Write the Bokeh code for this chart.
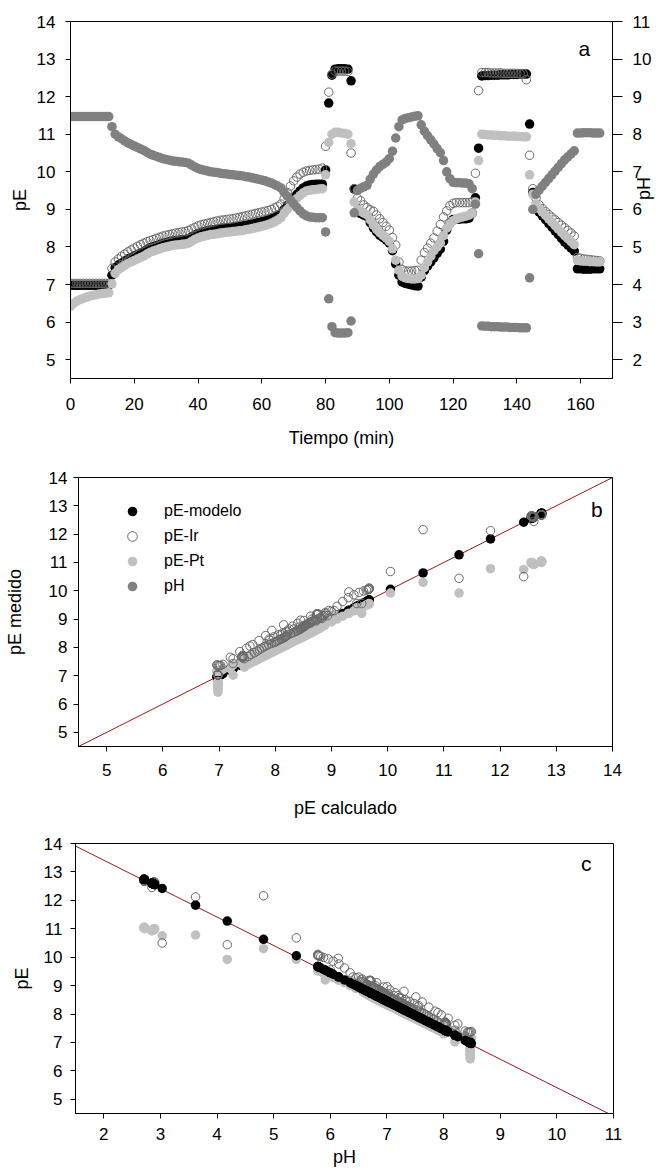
import math
from bokeh.plotting import figure
from bokeh.models import (ColumnDataSource, Range1d, LinearAxis, FixedTicker, Slope,
                          Label, Legend, LegendItem)
from bokeh.embed import file_html
from bokeh.resources import INLINE

# ---------------- data ----------------
tiempo = list(range(0, 167))  # min

ph = [8.47, 8.47, 8.47, 8.47, 8.47, 8.47, 8.47, 8.47, 8.47, 8.47,
      8.47, 8.47, 8.47, 8.20, 8.00, 7.93, 7.88, 7.82, 7.77, 7.73,
      7.69, 7.65, 7.61, 7.57, 7.52, 7.47, 7.44, 7.41, 7.38, 7.35,
      7.33, 7.31, 7.29, 7.28, 7.27, 7.26, 7.25, 7.23, 7.18, 7.13,
      7.09, 7.06, 7.04, 7.02, 7.00, 6.99, 6.98, 6.96, 6.95, 6.94,
      6.93, 6.92, 6.91, 6.90, 6.89, 6.87, 6.86, 6.84, 6.82, 6.80,
      6.78, 6.76, 6.73, 6.70, 6.66, 6.62, 6.57, 6.45, 6.35, 6.25,
      6.15, 6.05, 5.96, 5.88, 5.83, 5.80, 5.79, 5.78, 5.78, 5.78,
      5.40, 3.62, 2.88, 2.72, 2.71, 2.71, 2.71, 2.72, 3.03, 5.91,
      6.50, 6.56, 6.60, 6.64, 6.80, 6.94, 7.05, 7.14, 7.20, 7.26,
      7.35, 7.55, 7.90, 8.20, 8.38, 8.42, 8.44, 8.46, 8.48, 8.49,
      8.25, 8.08, 7.96, 7.85, 7.74, 7.62, 7.51, 7.30, 7.00, 6.82,
      6.72, 6.71, 6.71, 6.70, 6.70, 6.68, 6.55, 6.14, 4.82, 2.90,
      2.89, 2.89, 2.88, 2.88, 2.88, 2.87, 2.87, 2.87, 2.86, 2.86,
      2.86, 2.85, 2.85, 2.85, 4.18, 6.00, 6.40, 6.52, 6.62, 6.72,
      6.82, 6.92, 7.02, 7.12, 7.22, 7.32, 7.40, 7.48, 7.56, 8.03,
      8.03, 8.04, 8.04, 8.04, 8.03, 8.03, 8.03]

pe_modelo = [6.98, 6.98, 6.98, 6.98, 6.98, 6.98, 6.98, 6.98, 6.98, 6.98,
             6.98, 6.98, 6.98, 7.25, 7.45, 7.52, 7.57, 7.63, 7.68, 7.72,
             7.76, 7.80, 7.84, 7.88, 7.93, 7.98, 8.01, 8.04, 8.07, 8.10,
             8.12, 8.14, 8.16, 8.17, 8.18, 8.19, 8.20, 8.22, 8.27, 8.32,
             8.36, 8.39, 8.41, 8.43, 8.45, 8.46, 8.47, 8.49, 8.50, 8.51,
             8.52, 8.53, 8.54, 8.55, 8.56, 8.58, 8.59, 8.61, 8.63, 8.65,
             8.67, 8.69, 8.72, 8.75, 8.79, 8.83, 8.88, 9.00, 9.10, 9.20,
             9.30, 9.40, 9.49, 9.57, 9.62, 9.65, 9.66, 9.67, 9.67, 9.67,
             10.05, 11.83, 12.57, 12.73, 12.74, 12.74, 12.74, 12.73, 12.42, 9.54,
             8.95, 8.89, 8.85, 8.81, 8.65, 8.51, 8.40, 8.31, 8.25, 8.19,
             8.10, 7.90, 7.55, 7.25, 7.07, 7.03, 7.01, 6.99, 6.97, 6.96,
             7.20, 7.37, 7.49, 7.60, 7.71, 7.83, 7.94, 8.15, 8.45, 8.63,
             8.73, 8.74, 8.74, 8.75, 8.75, 8.77, 8.90, 9.31, 10.63, 12.55,
             12.56, 12.56, 12.57, 12.57, 12.57, 12.58, 12.58, 12.58, 12.59, 12.59,
             12.59, 12.60, 12.60, 12.60, 11.27, 9.45, 9.05, 8.93, 8.83, 8.73,
             8.63, 8.53, 8.43, 8.33, 8.23, 8.13, 8.05, 7.97, 7.89, 7.42,
             7.42, 7.41, 7.41, 7.41, 7.42, 7.42, 7.42]

pe_ir = [7.03, 7.03, 7.03, 7.03, 7.03, 7.03, 7.03, 7.03, 7.03, 7.03,
         7.03, 7.03, 7.03, 7.43, 7.60, 7.68, 7.75, 7.81, 7.87, 7.92,
         7.97, 8.02, 8.06, 8.10, 8.14, 8.17, 8.20, 8.23, 8.26, 8.29,
         8.31, 8.33, 8.35, 8.37, 8.38, 8.40, 8.41, 8.44, 8.48, 8.52,
         8.56, 8.59, 8.61, 8.63, 8.65, 8.67, 8.69, 8.71, 8.72, 8.73,
         8.74, 8.75, 8.77, 8.79, 8.81, 8.83, 8.85, 8.87, 8.89, 8.91,
         8.93, 8.95, 8.97, 9.00, 9.04, 9.08, 9.14, 9.28, 9.45, 9.62,
         9.76, 9.86, 9.94, 9.99, 10.02, 10.04, 10.05, 10.06, 10.07, 10.10,
         10.68, 12.12, 12.60, 12.68, 12.68, 12.68, 12.68, 12.67, 10.50, 9.55,
         9.30, 9.23, 9.12, 9.05, 8.99, 8.95, 8.85, 8.75, 8.65, 8.55,
         8.45, 8.25, 8.05, 7.60, 7.40, 7.36, 7.36, 7.36, 7.37, 7.38,
         7.65, 7.85, 7.97, 8.10, 8.24, 8.42, 8.60, 8.80, 8.96, 9.10,
         9.16, 9.18, 9.18, 9.18, 9.18, 9.18, 9.20, 9.96, 12.16, 12.64,
         12.64, 12.64, 12.63, 12.63, 12.63, 12.63, 12.62, 12.62, 12.62, 12.62,
         12.62, 12.61, 12.61, 12.45, 10.44, 9.55, 9.30, 9.12, 9.02, 8.94,
         8.86, 8.79, 8.72, 8.65, 8.58, 8.51, 8.44, 8.37, 8.29, 7.72,
         7.70, 7.68, 7.67, 7.66, 7.65, 7.64, 7.63]

pe_pt = [6.42, 6.50, 6.56, 6.60, 6.63, 6.66, 6.69, 6.71, 6.73, 6.75,
         6.76, 6.77, 6.78, 7.02, 7.30, 7.40, 7.45, 7.51, 7.56, 7.60,
         7.64, 7.68, 7.72, 7.76, 7.81, 7.86, 7.89, 7.92, 7.95, 7.98,
         8.00, 8.02, 8.04, 8.05, 8.06, 8.07, 8.08, 8.10, 8.15, 8.20,
         8.24, 8.27, 8.29, 8.31, 8.33, 8.34, 8.35, 8.37, 8.38, 8.39,
         8.40, 8.41, 8.42, 8.43, 8.44, 8.46, 8.47, 8.49, 8.51, 8.53,
         8.55, 8.57, 8.60, 8.63, 8.67, 8.72, 8.78, 8.90, 9.00, 9.10,
         9.20, 9.29, 9.37, 9.44, 9.49, 9.51, 9.52, 9.53, 9.54, 9.55,
         9.92, 10.78, 11.00, 11.05, 11.05, 11.03, 11.02, 11.00, 10.75, 9.20,
         9.00, 8.95, 8.90, 8.86, 8.72, 8.58, 8.47, 8.38, 8.31, 8.24,
         8.15, 7.95, 7.65, 7.38, 7.22, 7.18, 7.16, 7.15, 7.15, 7.16,
         7.25, 7.45, 7.60, 7.75, 7.90, 8.00, 8.10, 8.30, 8.50, 8.62,
         8.70, 8.75, 8.78, 8.80, 8.82, 8.85, 8.90, 9.20, 10.30, 11.00,
         10.99, 10.98, 10.98, 10.97, 10.97, 10.96, 10.96, 10.95, 10.95, 10.95,
         10.94, 10.94, 10.93, 10.93, 9.92, 9.40, 9.15, 9.02, 8.93, 8.84,
         8.75, 8.66, 8.57, 8.48, 8.39, 8.30, 8.22, 8.14, 8.06, 7.64,
         7.63, 7.62, 7.62, 7.61, 7.61, 7.60, 7.60]

pe_ticks = [5, 6, 7, 8, 9, 10, 11, 12, 13, 14]
ph_ticks = [2, 3, 4, 5, 6, 7, 8, 9, 10, 11]
t_ticks = [0, 20, 40, 60, 80, 100, 120, 140, 160]

series_labels = ["pE-modelo", "pE-Ir", "pE-Pt", "pH"]

# ---------------- styling ----------------
FONT = "Liberation Sans"
C_MOD = "black"
C_IR = "#6a6a6a"
C_PT = "#c0c0c0"
C_PH = "#808080"
C_LINE = "#a01414"
S_FILL = 9.5
S_OPEN = 8.5

src = ColumnDataSource(dict(t=tiempo, ph=ph, mod=pe_modelo, ir=pe_ir, pt=pe_pt))


def make_fig(xr, yr, fw, fh, left, right, top, bottom):
    p = figure(x_range=Range1d(*xr), y_range=Range1d(*yr), frame_width=fw, frame_height=fh,
               min_border_left=left, min_border_right=right, min_border_top=top,
               min_border_bottom=bottom, output_backend="svg", toolbar_location=None)
    p.xgrid.visible = False
    p.ygrid.visible = False
    p.outline_line_color = "black"
    p.outline_line_width = 1
    p.outline_line_alpha = 1
    p.background_fill_color = "white"
    p.border_fill_color = "white"
    return p


def style_axis(ax, ticks, label, tick_out=5, standoff=9, label_standoff=8):
    ax.ticker = FixedTicker(ticks=ticks)
    ax.axis_label = label
    ax.major_tick_in = 0
    ax.major_tick_out = tick_out
    ax.minor_tick_in = 0
    ax.minor_tick_out = 0
    ax.axis_line_color = "black"
    ax.major_tick_line_color = "black"
    ax.major_label_text_font = FONT
    ax.major_label_text_font_size = "17px"
    ax.major_label_text_color = "black"
    ax.major_label_standoff = standoff
    ax.axis_label_text_font = FONT
    ax.axis_label_text_font_size = "18px"
    ax.axis_label_text_font_style = "normal"
    ax.axis_label_text_color = "black"
    ax.axis_label_standoff = label_standoff


# ---------------- panel a ----------------
pa = make_fig((0, 170), (4.5, 14), 542, 357, 70, 53, 21, 81)
pa.extra_y_ranges = {"ph": Range1d(1.5, 11)}
style_axis(pa.xaxis[0], t_ticks, "Tiempo (min)", standoff=14, label_standoff=15)
style_axis(pa.yaxis[0], pe_ticks, "pE", standoff=10, label_standoff=4)
ax_ph = LinearAxis(y_range_name="ph")
style_axis(ax_ph, ph_ticks, "pH", tick_out=10, standoff=10, label_standoff=-10)
try:
    ax_ph.axis_label_orientation = math.pi / 2
except Exception:
    pass
pa.add_layout(ax_ph, "right")

pa.scatter("t", "mod", source=src, size=S_FILL, fill_color=C_MOD, line_color=None)
pa.scatter("t", "ir", source=src, size=S_OPEN, fill_color=None, line_color=C_IR, line_width=1)
pa.scatter("t", "pt", source=src, size=S_FILL, fill_color=C_PT, line_color=None)
pa.scatter("t", "ph", source=src, size=S_FILL, fill_color=C_PH, line_color=None, y_range_name="ph")
pa.add_layout(Label(x=161.2, y=13.28, text="a", text_font=FONT, text_font_size="21px",
                    text_align="center", text_baseline="middle", text_color="black"))

# ---------------- panel b ----------------
pb = make_fig((4.5, 14), (4.5, 14), 534, 269, 78, 53, 18, 76)
style_axis(pb.xaxis[0], pe_ticks, "pE calculado", standoff=12, label_standoff=19)
style_axis(pb.yaxis[0], pe_ticks, "pE medido", standoff=6, label_standoff=21)
pb.add_layout(Slope(gradient=1, y_intercept=0, line_color=C_LINE, line_width=1, level="underlay"))
rb_mod = pb.scatter("mod", "mod", source=src, size=S_FILL, fill_color=C_MOD, line_color=None)
rb_pt = pb.scatter("mod", "pt", source=src, size=S_FILL, fill_color=C_PT, line_color=None)
rb_ir = pb.scatter("mod", "ir", source=src, size=S_OPEN, fill_color=None, line_color=C_IR, line_width=1)
rb_ph = pb.scatter(x=[float("nan")], y=[float("nan")], size=S_FILL, fill_color=C_PH, line_color=None)
legend = Legend(items=[LegendItem(label=series_labels[0], renderers=[rb_mod]),
                       LegendItem(label=series_labels[1], renderers=[rb_ir]),
                       LegendItem(label=series_labels[2], renderers=[rb_pt]),
                       LegendItem(label=series_labels[3], renderers=[rb_ph])],
                location="top_left", margin=22, padding=0, glyph_width=64, glyph_height=24,
                label_height=24, label_standoff=-6, spacing=1, border_line_color=None,
                background_fill_alpha=0, label_text_font=FONT, label_text_font_size="16px",
                label_text_color="black")
pb.add_layout(legend)
pb.add_layout(Label(x=13.72, y=12.86, text="b", text_font=FONT, text_font_size="21px",
                    text_align="center", text_baseline="middle", text_color="black"))

# ---------------- panel c ----------------
pc = make_fig((1.5, 11), (4.5, 14), 538, 270, 75, 52, 21, 58)
style_axis(pc.xaxis[0], ph_ticks, "pH", standoff=9, label_standoff=4)
style_axis(pc.yaxis[0], pe_ticks, "pE", standoff=8, label_standoff=9)
pc.add_layout(Slope(gradient=-1, y_intercept=15.41, line_color=C_LINE, line_width=1, level="underlay"))
pc.scatter("ph", "pt", source=src, size=S_FILL, fill_color=C_PT, line_color=None)
pc.scatter("ph", "ir", source=src, size=S_OPEN, fill_color=None, line_color=C_IR, line_width=1)
pc.scatter("ph", "mod", source=src, size=S_FILL, fill_color=C_MOD, line_color=None)
pc.add_layout(Label(x=10.52, y=13.29, text="c", text_font=FONT, text_font_size="21px",
                    text_align="center", text_baseline="middle", text_color="black"))

open("out.html", "w").write(file_html([pa, pb, pc], INLINE))
